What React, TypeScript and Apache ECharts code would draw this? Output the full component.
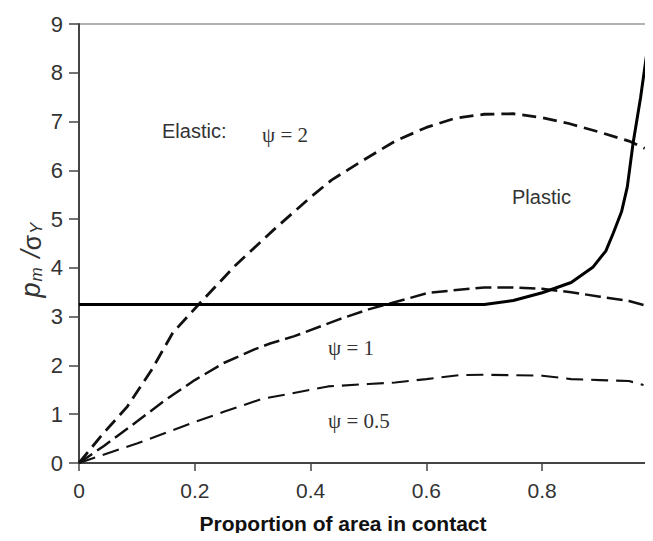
import React, { useEffect, useRef } from "react";
import * as echarts from "echarts";

const xTicks = [0, 0.2, 0.4, 0.6, 0.8, 1];
const yTicks = [0, 1, 2, 3, 4, 5, 6, 7, 8, 9];

const psi2: [number, number][] = [
  [0, 0], [0.04, 0.58], [0.083, 1.15], [0.125, 1.9], [0.162, 2.67], [0.209, 3.28],
  [0.27, 4.05], [0.338, 4.8], [0.4, 5.45], [0.436, 5.8], [0.49, 6.2], [0.546, 6.6],
  [0.6, 6.88], [0.65, 7.07], [0.7, 7.15], [0.75, 7.16], [0.8, 7.08], [0.846, 6.96],
  [0.9, 6.78], [0.95, 6.6], [0.977, 6.45],
];

const psi1: [number, number][] = [
  [0, 0], [0.043, 0.35], [0.1, 0.85], [0.15, 1.3], [0.2, 1.7], [0.25, 2.05],
  [0.303, 2.33], [0.33, 2.45], [0.372, 2.6], [0.448, 2.94], [0.5, 3.15], [0.54, 3.28],
  [0.604, 3.49], [0.656, 3.55], [0.7, 3.6], [0.75, 3.6], [0.8, 3.57], [0.85, 3.5],
  [0.9, 3.41], [0.95, 3.32], [0.975, 3.24],
];

const psi05: [number, number][] = [
  [0, 0], [0.055, 0.22], [0.1, 0.4], [0.2, 0.84], [0.25, 1.05], [0.315, 1.31],
  [0.43, 1.57], [0.5, 1.62], [0.546, 1.65], [0.6, 1.72], [0.656, 1.8], [0.7, 1.81],
  [0.75, 1.8], [0.8, 1.79], [0.85, 1.72], [0.9, 1.7], [0.95, 1.68], [0.975, 1.6],
];

const plastic: [number, number][] = [
  [0, 3.25], [0.7, 3.25], [0.75, 3.33], [0.8, 3.49], [0.85, 3.7], [0.888, 4.02],
  [0.91, 4.35], [0.923, 4.72], [0.937, 5.15], [0.947, 5.66], [0.957, 6.56],
  [0.97, 7.5], [0.981, 8.43],
];

const labels = {
  elastic: "Elastic:",
  psi2: "ψ = 2",
  plastic: "Plastic",
  psi1: "ψ = 1",
  psi05: "ψ = 0.5",
  xTitle: "Proportion of area in contact",
};

const sans = "'Liberation Sans', Arial, sans-serif";
const serif = "'Liberation Serif', 'Times New Roman', serif";

export default function App() {
  const ref = useRef<HTMLDivElement>(null);

  useEffect(() => {
    if (!ref.current) return;
    const chart = echarts.init(ref.current, undefined, { renderer: "svg" });
    const dashLine = (data: [number, number][], dash: number[], width: number) => ({
      type: "line",
      data,
      showSymbol: false,
      smooth: false,
      lineStyle: { color: "#111", width, type: dash },
      silent: true,
    });
    chart.setOption({
      animation: false,
      backgroundColor: "#fff",
      grid: {
        left: 79,
        right: -5,
        top: 24,
        bottom: 78,
        outerBoundsMode: "none",
        containLabel: false,
        show: true,
        borderColor: "#999",
        borderWidth: 1.5,
        backgroundColor: "transparent",
      },
      xAxis: {
        type: "value",
        min: xTicks[0],
        max: xTicks[xTicks.length - 1],
        interval: 0.2,
        axisLine: { show: true, onZero: false, lineStyle: { color: "#444", width: 2 } },
        axisTick: { show: true, inside: false, length: 8, lineStyle: { color: "#444", width: 1.5 } },
        splitLine: { show: false },
        axisLabel: {
          fontFamily: sans,
          fontSize: 21,
          color: "#333",
          margin: 17,
          formatter: (v: number) => String(Math.round(v * 10) / 10),
        },
      },
      yAxis: {
        type: "value",
        min: yTicks[0],
        max: yTicks[yTicks.length - 1],
        interval: 1,
        axisLine: { show: true, onZero: false, lineStyle: { color: "#444", width: 2 } },
        axisTick: { show: true, inside: false, length: 10, lineStyle: { color: "#444", width: 1.5 } },
        splitLine: { show: false },
        axisLabel: { fontFamily: sans, fontSize: 22, color: "#333", margin: 16 },
      },
      series: [
        dashLine(psi2, [14, 7], 2.8),
        dashLine(psi1, [16, 6], 2.5),
        dashLine(psi05, [17, 8], 2.1),
        {
          type: "line",
          data: plastic,
          showSymbol: false,
          smooth: false,
          lineStyle: { color: "#000", width: 3, type: "solid" },
          silent: true,
        },
      ],
      graphic: [
        {
          type: "text", left: 162, top: 121,
          style: { text: labels.elastic, font: `20px ${sans}`, fill: "#333" },
        },
        {
          type: "text", left: 262, top: 124,
          style: { text: labels.psi2, font: `21px ${serif}`, fill: "#333" },
        },
        {
          type: "text", left: 512, top: 187,
          style: { text: labels.plastic, font: `20px ${sans}`, fill: "#333" },
        },
        {
          type: "text", left: 328, top: 337,
          style: { text: labels.psi1, font: `21px ${serif}`, fill: "#333" },
        },
        {
          type: "text", left: 328, top: 410,
          style: { text: labels.psi05, font: `21px ${serif}`, fill: "#333" },
        },
        {
          type: "text", x: 343, y: 523,
          style: {
            text: labels.xTitle, font: `bold 21px ${sans}`, fill: "#111",
            align: "center", verticalAlign: "middle",
          },
        },
        {
          type: "text", x: 31, y: 259, rotation: Math.PI / 2,
          style: {
            text: "{p|p}{s|m}{p| /}{g|σ}{s|Y}",
            align: "center", verticalAlign: "middle",
            rich: {
              p: { font: `italic 27px ${sans}`, fill: "#333", verticalAlign: "bottom" },
              s: { font: `italic 17px ${sans}`, fill: "#333", verticalAlign: "bottom", padding: [0, 2, 0, 1] },
              g: { font: `25px ${sans}`, fill: "#333", verticalAlign: "bottom" },
            },
          },
        },
      ],
    });
    return () => chart.dispose();
  }, []);

  return <div ref={ref} style={{ width: 653, height: 541, margin: -8 }} />;
}
